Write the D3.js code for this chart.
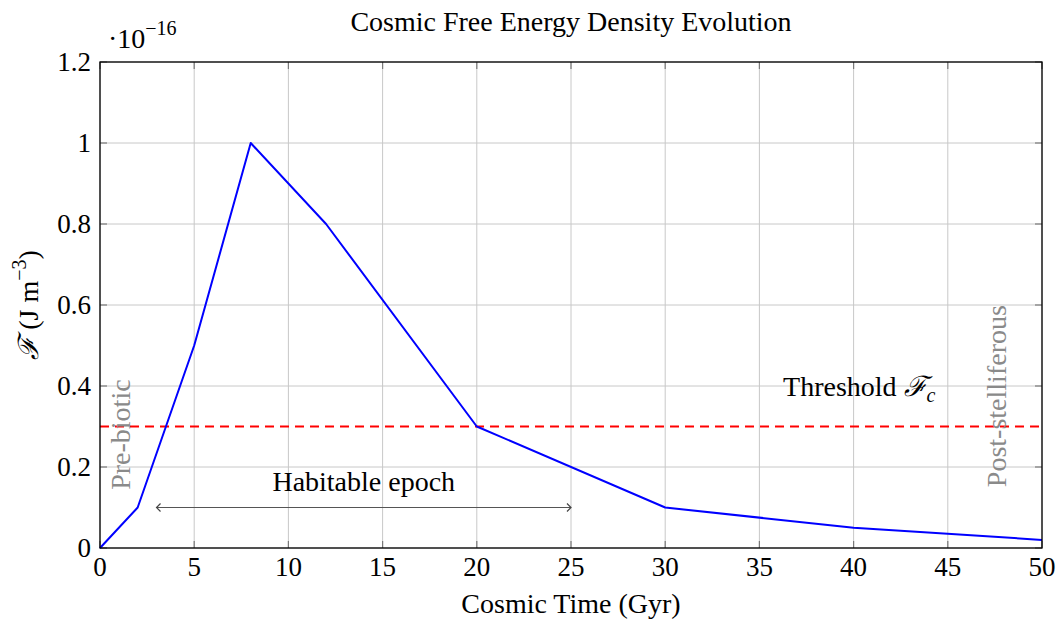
<!DOCTYPE html>
<html>
<head>
<meta charset="utf-8">
<script src="https://cdn.jsdelivr.net/npm/d3@7"></script>
<style>
  body { margin: 0; background: #fff; }
  svg text { font-family: "Liberation Serif", "DejaVu Serif", serif; fill: #000; }
</style>
</head>
<body>
<div id="svganchor"></div>
<script>
// data
const times = [0, 2, 5, 8, 12, 20, 30, 40, 50];          // Gyr
const energy = [0, 0.1, 0.5, 1.0, 0.8, 0.3, 0.1, 0.05, 0.02]; // x 1e-16 J m^-3
const threshold = 0.3;
const habitable = [3, 25];
const xTicks = [0, 5, 10, 15, 20, 25, 30, 35, 40, 45, 50];
const yTicks = [0, 0.2, 0.4, 0.6, 0.8, 1, 1.2];

const width = 1056;
const height = 619;
const margin = { top: 62, left: 100, right: 14, bottom: 71 };

const svg = d3.select("#svganchor")
  .append("svg")
  .attr("width", width)
  .attr("height", height);

const x = d3.scaleLinear().domain([0, 50]).range([margin.left, width - margin.right]);
const y = d3.scaleLinear().domain([0, 1.2]).range([height - margin.bottom, margin.top]);

const fs = 28;     // label font size
const tfs = 27;    // tick font size

// grid
svg.append("g").selectAll("line").data(xTicks).join("line")
  .attr("x1", d => x(d)).attr("x2", d => x(d))
  .attr("y1", y(0)).attr("y2", y(1.2))
  .attr("stroke", "#c8c8c8").attr("stroke-width", 1);
svg.append("g").selectAll("line").data(yTicks).join("line")
  .attr("y1", d => y(d)).attr("y2", d => y(d))
  .attr("x1", x(0)).attr("x2", x(50))
  .attr("stroke", "#c8c8c8").attr("stroke-width", 1);

// inner ticks on all four sides
const tl = 7;
const tickG = svg.append("g").attr("stroke", "#7a7a7a").attr("stroke-width", 1.2);
xTicks.forEach(d => {
  tickG.append("line").attr("x1", x(d)).attr("x2", x(d)).attr("y1", y(0)).attr("y2", y(0) - tl);
  tickG.append("line").attr("x1", x(d)).attr("x2", x(d)).attr("y1", y(1.2)).attr("y2", y(1.2) + tl);
});
yTicks.forEach(d => {
  tickG.append("line").attr("y1", y(d)).attr("y2", y(d)).attr("x1", x(0)).attr("x2", x(0) + tl);
  tickG.append("line").attr("y1", y(d)).attr("y2", y(d)).attr("x1", x(50)).attr("x2", x(50) - tl);
});

// tick labels
svg.append("g").selectAll("text").data(xTicks).join("text")
  .attr("x", d => x(d)).attr("y", y(0) + 28)
  .attr("text-anchor", "middle").style("font-size", tfs + "px")
  .text(d => d);
svg.append("g").selectAll("text").data(yTicks).join("text")
  .attr("x", x(0) - 9).attr("y", d => y(d)).attr("dy", "0.33em")
  .attr("text-anchor", "end").style("font-size", tfs + "px")
  .text(d => d);

// exponent label
const expo = svg.append("text").attr("x", 108).attr("y", 48).style("font-size", fs + "px");
expo.append("tspan").text("·10");
expo.append("tspan").attr("dy", -13).style("font-size", "20px").text("−16");

// threshold line
svg.append("line")
  .attr("x1", x(0)).attr("x2", x(50))
  .attr("y1", y(threshold)).attr("y2", y(threshold))
  .attr("stroke", "#ff0000").attr("stroke-width", 2)
  .attr("stroke-dasharray", "9,6");

// habitable epoch arrow
const defs = svg.append("defs");
["start", "end"].forEach(k => {
  defs.append("marker")
    .attr("id", "arr-" + k)
    .attr("viewBox", "-6 -5 8 10")
    .attr("markerWidth", 8).attr("markerHeight", 10)
    .attr("markerUnits", "userSpaceOnUse")
    .attr("orient", k === "end" ? "auto" : "auto-start-reverse")
    .append("path")
    .attr("d", "M-4,-4 L0,0 L-4,4")
    .attr("fill", "none").attr("stroke", "#444").attr("stroke-width", 1.2);
});
svg.append("line")
  .attr("x1", x(habitable[0])).attr("x2", x(habitable[1]))
  .attr("y1", y(0.1)).attr("y2", y(0.1))
  .attr("stroke", "#555").attr("stroke-width", 1.2)
  .attr("marker-start", "url(#arr-start)")
  .attr("marker-end", "url(#arr-end)");

// curve
const line = d3.line().x(d => x(d[0])).y(d => y(d[1]));
svg.append("path")
  .datum(d3.zip(times, energy))
  .attr("d", line)
  .attr("fill", "none")
  .attr("stroke", "#0000ff")
  .attr("stroke-width", 2)
  .attr("stroke-linejoin", "round");

// annotations
svg.append("text")
  .attr("x", x(14)).attr("y", y(0.165)).attr("dy", "0.35em")
  .attr("text-anchor", "middle").style("font-size", fs + "px")
  .text("Habitable epoch");

const thr = svg.append("text")
  .attr("x", x(40.3)).attr("y", y(0.4)).attr("dy", "0.35em")
  .attr("text-anchor", "middle").style("font-size", fs + "px");
thr.append("tspan").text("Threshold ");
thr.append("tspan").style("font-style", "italic").text("ℱ");
thr.append("tspan").attr("dy", 6).style("font-size", "20px").style("font-style", "italic").text("c");

svg.append("text")
  .attr("transform", `translate(${x(1.06)},${y(0.28)}) rotate(-90)`)
  .attr("dy", "0.35em")
  .attr("text-anchor", "middle").style("font-size", fs + "px")
  .style("fill", "#8a8a8a")
  .text("Pre-biotic");

svg.append("text")
  .attr("transform", `translate(${x(47.56)},${y(0.375)}) rotate(-90)`)
  .attr("dy", "0.35em")
  .attr("text-anchor", "middle").style("font-size", fs + "px")
  .style("fill", "#8a8a8a")
  .text("Post-stelliferous");

// axis box
svg.append("rect")
  .attr("x", x(0)).attr("y", y(1.2))
  .attr("width", x(50) - x(0)).attr("height", y(0) - y(1.2))
  .attr("fill", "none").attr("stroke", "#000").attr("stroke-width", 1.3);

// axis labels and title
svg.append("text")
  .attr("x", (x(0) + x(50)) / 2).attr("y", 613)
  .attr("text-anchor", "middle").style("font-size", fs + "px")
  .text("Cosmic Time (Gyr)");

const yl = svg.append("text")
  .attr("transform", `translate(38,${(y(0) + y(1.2)) / 2}) rotate(-90)`)
  .attr("text-anchor", "middle").style("font-size", fs + "px");
yl.append("tspan").style("font-style", "italic").text("ℱ");
yl.append("tspan").text(" (J m");
yl.append("tspan").attr("dy", -12).style("font-size", "20px").text("−3");
yl.append("tspan").attr("dy", 12).text(")");

svg.append("text")
  .attr("x", (x(0) + x(50)) / 2).attr("y", 31)
  .attr("text-anchor", "middle").style("font-size", fs + "px")
  .text("Cosmic Free Energy Density Evolution");
</script>
</body>
</html>
